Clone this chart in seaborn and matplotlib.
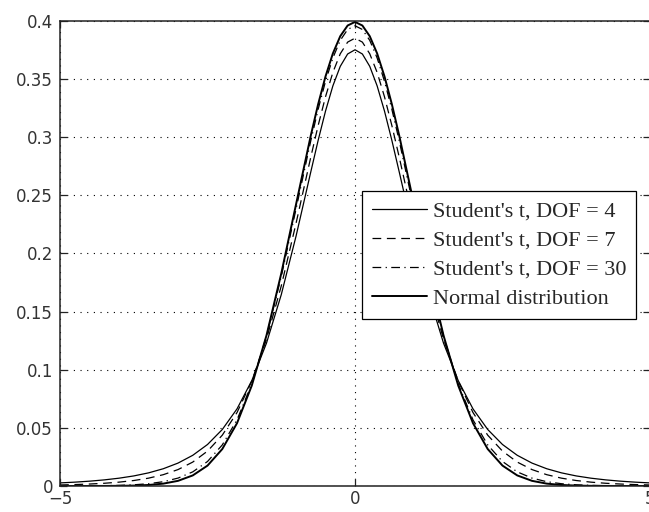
import numpy as np
import pandas as pd
import matplotlib
matplotlib.use("Agg")
import matplotlib.pyplot as plt
import seaborn as sns

# Sample positions along the x axis
x = [-5.0, -4.75, -4.5, -4.25, -4.0, -3.75, -3.5, -3.25, -3.0, -2.75, -2.5, -2.25,
     -2.0, -1.75, -1.5, -1.25, -1.0, -0.75, -0.625, -0.5, -0.375, -0.25, -0.125,
     0.0,
     0.125, 0.25, 0.375, 0.5, 0.625, 0.75, 1.0, 1.25, 1.5, 1.75, 2.0, 2.25, 2.5,
     2.75, 3.0, 3.25, 3.5, 3.75, 4.0, 4.25, 4.5, 4.75, 5.0]

# Density values of each curve at those positions
t_dof4 = [0.00265, 0.00330, 0.00414, 0.00525, 0.00671, 0.00865, 0.01128, 0.01483,
          0.01969, 0.02639, 0.03567, 0.04854, 0.06629, 0.09053, 0.12288, 0.16445,
          0.21466, 0.26989, 0.29707, 0.32226, 0.34397, 0.36074, 0.37136,
          0.37500,
          0.37136, 0.36074, 0.34397, 0.32226, 0.29707, 0.26989, 0.21466, 0.16445,
          0.12288, 0.09053, 0.06629, 0.04854, 0.03567, 0.02639, 0.01969, 0.01483,
          0.01128, 0.00865, 0.00671, 0.00525, 0.00414, 0.00330, 0.00265]

t_dof7 = [0.00088, 0.00121, 0.00168, 0.00234, 0.00330, 0.00470, 0.00673, 0.00972,
          0.01411, 0.02056, 0.02999, 0.04365, 0.06315, 0.09016, 0.12627, 0.17196,
          0.22567, 0.28262, 0.30982, 0.33457, 0.35555, 0.37154, 0.38157,
          0.38499,
          0.38157, 0.37154, 0.35555, 0.33457, 0.30982, 0.28262, 0.22567, 0.17196,
          0.12627, 0.09016, 0.06315, 0.04365, 0.02999, 0.02056, 0.01411, 0.00972,
          0.00673, 0.00470, 0.00330, 0.00234, 0.00168, 0.00121, 0.00088]

t_dof30 = [0.00003, 0.00007, 0.00013, 0.00027, 0.00052, 0.00102, 0.00196, 0.00369,
           0.00678, 0.01214, 0.02106, 0.03528, 0.05685, 0.08766, 0.12896, 0.18009,
           0.23798, 0.29665, 0.32374, 0.34788, 0.36797, 0.38307, 0.39245,
           0.39563,
           0.39245, 0.38307, 0.36797, 0.34788, 0.32374, 0.29665, 0.23798, 0.18009,
           0.12896, 0.08766, 0.05685, 0.03528, 0.02106, 0.01214, 0.00678, 0.00369,
           0.00196, 0.00102, 0.00052, 0.00027, 0.00013, 0.00007, 0.00003]

normal = [0.00000, 0.00001, 0.00002, 0.00005, 0.00013, 0.00035, 0.00087, 0.00203,
          0.00443, 0.00909, 0.01753, 0.03174, 0.05399, 0.08628, 0.12952, 0.18265,
          0.24197, 0.30114, 0.32816, 0.35207, 0.37185, 0.38667, 0.39584,
          0.39894,
          0.39584, 0.38667, 0.37185, 0.35207, 0.32816, 0.30114, 0.24197, 0.18265,
          0.12952, 0.08628, 0.05399, 0.03174, 0.01753, 0.00909, 0.00443, 0.00203,
          0.00087, 0.00035, 0.00013, 0.00005, 0.00002, 0.00001, 0.00000]

labels = ["Student's t, DOF = 4", "Student's t, DOF = 7",
          "Student's t, DOF = 30", "Normal distribution"]
x_ticks = [-5, 0, 5]
y_ticks = [0, 0.05, 0.1, 0.15, 0.2, 0.25, 0.3, 0.35, 0.4]
y_tick_labels = ["0", "0.05", "0.1", "0.15", "0.2", "0.25", "0.3", "0.35", "0.4"]

frames = []
for name, vals in zip(labels, [t_dof4, t_dof7, t_dof30, normal]):
    frames.append(pd.DataFrame({"x": x, "pdf": vals, "series": name}))
df = pd.concat(frames, ignore_index=True)

sns.set_style("white")
fig = plt.figure(figsize=(6.49, 5.12), dpi=100)
ax = fig.add_axes([0.0925, 0.0508, 0.9090, 0.9088])

dash_styles = {
    labels[0]: "",
    labels[1]: (7, 4.5),
    labels[2]: (7, 3.5, 1, 3.5),
    labels[3]: "",
}
sns.lineplot(data=df, x="x", y="pdf", hue="series", style="series",
             hue_order=labels, style_order=labels,
             palette=["black"] * 4, dashes=dash_styles,
             estimator=None, sort=False, ax=ax, legend=True)

widths = [0.9, 0.9, 0.9, 1.4]
for line, lw in zip(ax.lines, widths):
    line.set_linewidth(lw)

ax.set_xlim(-5, 5)
ax.set_ylim(0, 0.4)
ax.set_xticks(x_ticks)
ax.set_xticklabels(["\u22125", "0", "5"])
ax.set_yticks(y_ticks)
ax.set_yticklabels(y_tick_labels)
ax.set_xlabel("")
ax.set_ylabel("")

ax.grid(True, color="black", linestyle=(0, (1, 5)), linewidth=0.8)
ax.set_axisbelow(True)

for side in ["left", "bottom", "top", "right"]:
    ax.spines[side].set_visible(True)
    ax.spines[side].set_color("#222222")
    ax.spines[side].set_linewidth(1.1)

ax.tick_params(axis="both", which="both", direction="in", length=5, width=0.9,
               top=True, right=True, bottom=True, left=True,
               labelsize=12, labelcolor="#333333", colors="#222222")
ax.tick_params(axis="x", pad=3)
ax.tick_params(axis="y", pad=5)

handles, leg_labels = ax.get_legend_handles_labels()
for h, lw in zip(handles, widths):
    h.set_linewidth(lw)
leg = ax.legend(handles, leg_labels, loc="upper left",
                bbox_to_anchor=(0.512, 0.634), frameon=True, fancybox=False,
                prop={"family": "Liberation Serif", "size": 16},
                handlelength=2.45, handletextpad=0.28, borderpad=0.45,
                labelspacing=0.38, borderaxespad=0)
leg.get_frame().set_edgecolor("black")
leg.get_frame().set_linewidth(0.9)
leg.get_frame().set_alpha(1)

fig.savefig("out.png", dpi=100)
